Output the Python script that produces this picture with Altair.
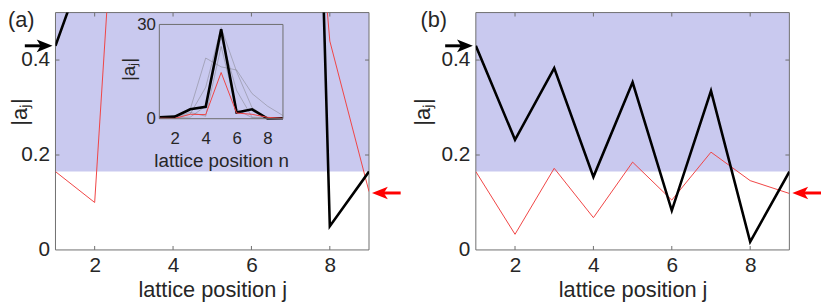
import altair as alt
import pandas as pd

# ---------------- data ----------------
j = [1, 2, 3, 4, 5, 6, 7, 8, 9]
a_black = [0.43, 0.66, 3.0, 3.8, 28.5, 2.0, 3.0, 0.05, 0.165]
a_red = [0.165, 0.10, 1.4, 1.3, 14.7, 1.8, 1.4, 0.44, 0.123]
grey_names = ["g1", "g2", "g3", "g4"]
grey_vals = [
    [0.1, 0.4, 3.0, 19.3, 16.5, 15.5, 8.0, 4.0, 1.0],
    [0.1, 0.3, 1.5, 10.0, 29.0, 15.0, 3.5, 0.2, 0.1],
    [0.2, 0.3, 0.5, 4.0, 26.0, 9.0, 0.5, 0.3, 0.1],
    [0.3, 0.5, 2.0, 0.8, 23.0, 3.0, 0.3, 0.1, 0.1],
]
b_black = [0.43, 0.232, 0.383, 0.154, 0.353, 0.083, 0.335, 0.017, 0.165]
b_red = [0.165, 0.033, 0.172, 0.068, 0.185, 0.105, 0.206, 0.146, 0.119]
threshold = 0.165
arrow_black = 0.43
arrow_red = 0.12
x_ticks = [2, 4, 6, 8]
y_ticks = [0, 0.2, 0.4]
inset_y_ticks = [0, 30]

# ---------------- style ----------------
W, H = 317, 240
FONT = "Liberation Sans"
TXT = "#262626"
EDGE = "#6e6e6e"
SHADE = "#C9C9EF"
RED = "#F04444"
TL = 4
xs = alt.Scale(domain=[1, 9], nice=False, zero=False)
ys = alt.Scale(domain=[0, 0.5], nice=False, zero=False)
xi = alt.Scale(domain=[1, 9], range=[105, 230], nice=False, zero=False)
yi = alt.Scale(domain=[0, 30], range=[107.3, 12], nice=False, zero=False)
HEAD_R = "M 1 0 L -1 -0.8 L -0.5 0 L -1 0.8 Z"
HEAD_L = "M -1 0 L 1 -0.8 L 0.5 0 L 1 0.8 Z"


def main_layers(black, red, label, title_x, label_x):
    AX = alt.Axis(values=x_ticks, title="lattice position j", labelFontSize=21,
                  labelPadding=5, titleFontSize=22, titlePadding=4)
    AY = alt.Axis(values=y_ticks, format="~g", title="|aⱼ|", labelFontSize=21,
                  labelPadding=6, titleFontSize=22, titleX=title_x, titleY=100,
                  titleAngle=270, titleBaseline="bottom")

    def X(f):
        return alt.X(f, scale=xs, axis=AX)

    def Y(f):
        return alt.Y(f, scale=ys, axis=AY)

    df = pd.DataFrame({"j": j, "black": black, "red": red})
    shade_df = pd.DataFrame({"x0": [1], "x1": [9], "y0": [threshold], "y1": [0.5]})
    frame_df = pd.DataFrame({"x0": [1, 1, 1, 9], "x1": [9, 9, 1, 9],
                             "y0": [0, 0.5, 0, 0], "y1": [0, 0.5, 0.5, 0.5]})
    xt_df = pd.DataFrame({"t": x_ticks})
    yt_df = pd.DataFrame({"t": y_ticks[1:]})
    arr_b = pd.DataFrame({"lvl": [arrow_black]})
    arr_r = pd.DataFrame({"lvl": [arrow_red]})
    lab_df = pd.DataFrame({"t": [label]})

    shade = alt.Chart(shade_df).mark_rect(color=SHADE).encode(
        x=X("x0:Q"), x2="x1:Q", y=Y("y0:Q"), y2="y1:Q")
    frame = alt.Chart(frame_df).mark_rule(color=EDGE, strokeWidth=1).encode(
        x=X("x0:Q"), x2="x1:Q", y=Y("y0:Q"), y2="y1:Q")
    tb = alt.Chart(xt_df).mark_rule(color=EDGE).encode(
        x=X("t:Q"), y=alt.value(H), y2=alt.value(H - TL))
    tt = alt.Chart(xt_df).mark_rule(color=EDGE).encode(
        x=X("t:Q"), y=alt.value(0), y2=alt.value(TL))
    tlft = alt.Chart(yt_df).mark_rule(color=EDGE).encode(
        y=Y("t:Q"), x=alt.value(0), x2=alt.value(TL))
    trgt = alt.Chart(yt_df).mark_rule(color=EDGE).encode(
        y=Y("t:Q"), x=alt.value(W), x2=alt.value(W - TL))
    red_line = alt.Chart(df).mark_line(color=RED, strokeWidth=1, clip=True).encode(
        x=X("j:Q"), y=Y("red:Q"))
    black_line = alt.Chart(df).mark_line(color="black", strokeWidth=2.6, clip=True).encode(
        x=X("j:Q"), y=Y("black:Q"))
    ab_shaft = alt.Chart(arr_b).mark_rule(color="black", strokeWidth=3).encode(
        y=Y("lvl:Q"), x=alt.value(-31), x2=alt.value(-12))
    ab_head = alt.Chart(arr_b).mark_point(shape=HEAD_R, size=256, filled=True,
                                          color="black", opacity=1).encode(
        y=Y("lvl:Q"), x=alt.value(-11))
    ar_shaft = alt.Chart(arr_r).mark_rule(color="#FF0000", strokeWidth=3).encode(
        y=Y("lvl:Q"), x=alt.value(330), x2=alt.value(349))
    ar_head = alt.Chart(arr_r).mark_point(shape=HEAD_L, size=256, filled=True,
                                          color="#FF0000", opacity=1).encode(
        y=Y("lvl:Q"), x=alt.value(328))
    lab = alt.Chart(lab_df).mark_text(align="left", baseline="top", fontSize=22,
                                      color=TXT, font=FONT).encode(
        text="t:N", x=alt.value(label_x), y=alt.value(-2))
    return alt.layer(shade, tb, tt, tlft, trgt, frame, red_line, black_line,
                     ab_shaft, ab_head, ar_shaft, ar_head, lab)


# ---------------- inset ----------------
AXI = alt.Axis(orient="bottom", offset=-(H - 107.3), values=x_ticks,
               title="lattice position n", labelFontSize=17, labelPadding=12,
               titleFontSize=19, titlePadding=5, zindex=2)
AYI = alt.Axis(orient="left", offset=-105, values=inset_y_ticks, title="|aⱼ|",
               labelFontSize=17, labelPadding=4, titleFontSize=19, titleX=-21,
               titleY=57, titleAngle=270, titleBaseline="bottom", zindex=2)


def XI(f):
    return alt.X(f, scale=xi, axis=AXI)


def YI(f):
    return alt.Y(f, scale=yi, axis=AYI)


rows = []
for name, vals in zip(grey_names, grey_vals):
    for n, v in zip(j, vals):
        rows.append({"n": n, "series": name, "val": v})
grey_df = pd.DataFrame(rows)
ins_df = pd.DataFrame({"n": j, "black": a_black, "red": a_red})
ins_frame = pd.DataFrame({"x0": [1, 1, 1, 9], "x1": [9, 9, 1, 9],
                          "y0": [0, 30, 0, 0], "y1": [0, 30, 30, 30]})

grey = alt.Chart(grey_df).mark_line(color="#6a6a6a", opacity=0.4, strokeWidth=1).encode(
    x=XI("n:Q"), y=YI("val:Q"), detail="series:N")
ins_black = alt.Chart(ins_df).mark_line(color="black", strokeWidth=2.6).encode(
    x=XI("n:Q"), y=YI("black:Q"))
ins_red = alt.Chart(ins_df).mark_line(color=RED, strokeWidth=1).encode(
    x=XI("n:Q"), y=YI("red:Q"))
ins_box = alt.Chart(ins_frame).mark_rule(color=EDGE, strokeWidth=1).encode(
    x=XI("x0:Q"), x2="x1:Q", y=YI("y0:Q"), y2="y1:Q")
inset = alt.layer(grey, ins_black, ins_red, ins_box)

panel_a = alt.layer(
    main_layers(a_black, a_red, "(a)", -24, -48), inset
).resolve_scale(x="independent", y="independent").properties(width=W, height=H)

panel_b = main_layers(b_black, b_red, "(b)", -42, -56).properties(width=W, height=H)

chart = alt.hconcat(panel_a, panel_b, spacing=108, bounds="flush").properties(
    padding={"left": 0, "top": 0, "right": 0, "bottom": 0}
).configure_view(stroke=None).configure_axis(
    labelFont=FONT, titleFont=FONT, labelColor=TXT, titleColor=TXT,
    titleFontWeight="normal", grid=False, domain=False, ticks=False
).configure_text(font=FONT)

chart.save("out.html", embed_options={"renderer": "svg", "actions": False})
